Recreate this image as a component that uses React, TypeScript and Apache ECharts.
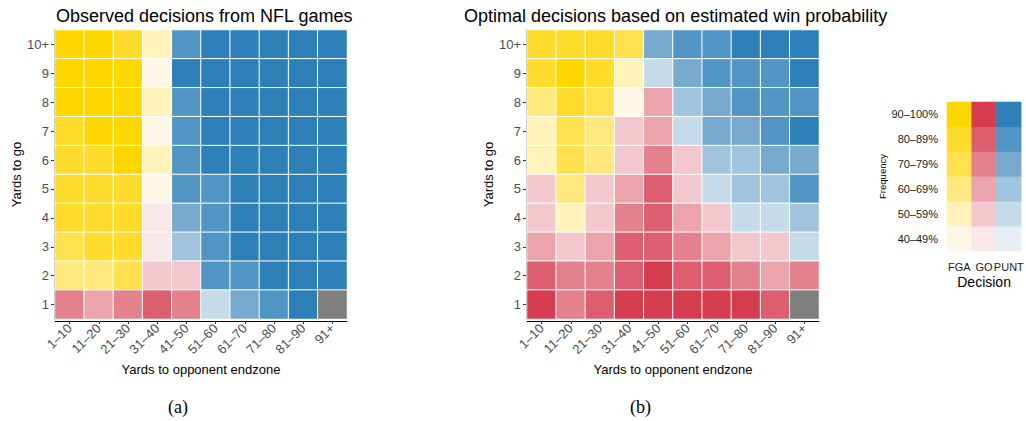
import React, { useEffect, useRef } from "react";
import * as echarts from "echarts";

const xCats = ["1–10", "11–20", "21–30", "31–40", "41–50", "51–60", "61–70", "71–80", "81–90", "91+"];
const yCats = ["1", "2", "3", "4", "5", "6", "7", "8", "9", "10+"];

// rows listed from top (10+) to bottom (1); F=FGA, G=GO, P=PUNT, level 1 (40–49%) .. 6 (90–100%), NA = no data
const observedRows = [
  ["F6", "F6", "F5", "F2", "P5", "P6", "P6", "P6", "P6", "P6"],
  ["F6", "F6", "F6", "F1", "P6", "P6", "P6", "P6", "P6", "P6"],
  ["F6", "F6", "F6", "F2", "P5", "P6", "P6", "P6", "P6", "P6"],
  ["F5", "F6", "F6", "F1", "P5", "P6", "P6", "P6", "P6", "P6"],
  ["F5", "F5", "F6", "F2", "P5", "P6", "P6", "P6", "P6", "P6"],
  ["F5", "F5", "F5", "F1", "P5", "P5", "P6", "P6", "P6", "P6"],
  ["F5", "F5", "F5", "G1", "P4", "P5", "P6", "P6", "P6", "P6"],
  ["F4", "F5", "F5", "G1", "P3", "P5", "P6", "P6", "P6", "P6"],
  ["F3", "F3", "F4", "G2", "G2", "P5", "P5", "P6", "P6", "P6"],
  ["G4", "G3", "G4", "G5", "G4", "P2", "P4", "P5", "P6", "NA"],
];

const optimalRows = [
  ["F5", "F5", "F5", "F4", "P4", "P5", "P5", "P6", "P6", "P6"],
  ["F5", "F6", "F5", "F2", "P2", "P4", "P5", "P5", "P5", "P6"],
  ["F3", "F5", "F4", "F1", "G3", "P3", "P4", "P5", "P5", "P5"],
  ["F2", "F4", "F3", "G2", "G3", "P2", "P4", "P4", "P5", "P6"],
  ["F2", "F4", "F3", "G2", "G4", "G2", "P3", "P3", "P4", "P4"],
  ["G2", "F3", "G2", "G3", "G5", "G2", "P2", "P3", "P3", "P5"],
  ["G2", "F2", "G2", "G4", "G5", "G3", "G2", "P2", "P2", "P3"],
  ["G3", "G2", "G3", "G5", "G5", "G4", "G3", "G2", "G2", "P2"],
  ["G5", "G4", "G4", "G5", "G6", "G5", "G5", "G4", "G3", "G4"],
  ["G6", "G4", "G5", "G6", "G6", "G6", "G6", "G6", "G5", "NA"],
];

const legendDecisions = ["FGA", "GO", "PUNT"];
const legendLevels = ["40–49%", "50–59%", "60–69%", "70–79%", "80–89%", "90–100%"];

const decisionKeys = ["F", "G", "P"];
const palette: Record<string, string[]> = {
  F: ["#FFF8E7", "#FFF3B9", "#FFE97F", "#FFE14F", "#FFDB2B", "#FFD700"],
  G: ["#F8E8EA", "#F2C8CE", "#EBA4AC", "#E3818D", "#DD5F6F", "#D63C4F"],
  P: ["#E6EEF5", "#C6DBEA", "#A1C4DE", "#78AACF", "#5195C4", "#2D7FB8"],
};
const naColor = "#7F7F7F";

// numeric class for visualMap: decisionIndex*6 + (level-1); NA = 18
const codeClass = (code: string) => {
  if (code === "NA") return 18;
  return decisionKeys.indexOf(code[0]) * 6 + parseInt(code.slice(1), 10) - 1;
};

const pieces: any[] = [];
decisionKeys.forEach((k, di) => {
  palette[k].forEach((c, li) => pieces.push({ value: di * 6 + li, color: c }));
});
pieces.push({ value: 18, color: naColor });

const buildData = (rows: string[][]) => {
  const out: number[][] = [];
  rows.forEach((row, r) => {
    const yi = yCats.length - 1 - r;
    row.forEach((code, xi) => out.push([xi, yi, codeClass(code)]));
  });
  return out;
};

const legendData = () => {
  const out: number[][] = [];
  legendDecisions.forEach((_, xi) => {
    legendLevels.forEach((__, yi) => out.push([xi, yi, xi * 6 + yi]));
  });
  return out;
};

const FONT = "Liberation Sans";

const mainX = (gridIndex: number) => ({
  type: "category",
  gridIndex,
  data: xCats,
  offset: 2,
  axisLine: { show: true, lineStyle: { color: "#000", width: 1 } },
  axisTick: { show: true, length: 3, alignWithLabel: true, lineStyle: { color: "#333" } },
  axisLabel: { rotate: 45, color: "#4D4D4D", fontSize: 13, fontFamily: FONT, margin: 5, interval: 0 },
  splitLine: { show: false },
  name: "Yards to opponent endzone",
  nameLocation: "middle",
  nameGap: 41,
  nameTextStyle: { color: "#000", fontSize: 13, fontFamily: FONT },
});

const mainY = (gridIndex: number) => ({
  type: "category",
  gridIndex,
  data: yCats,
  offset: 1,
  axisLine: { show: true, lineStyle: { color: "#000", width: 1 } },
  axisTick: { show: true, length: 3, alignWithLabel: true, lineStyle: { color: "#333" } },
  axisLabel: { color: "#4D4D4D", fontSize: 13, fontFamily: FONT, margin: 5, interval: 0 },
  splitLine: { show: false },
  name: "Yards to go",
  nameLocation: "middle",
  nameGap: 30,
  nameRotate: 90,
  nameTextStyle: { color: "#000", fontSize: 13, fontFamily: FONT },
});

export default function App() {
  const ref = useRef<HTMLDivElement>(null);
  useEffect(() => {
    if (!ref.current) return;
    const chart = echarts.init(ref.current, null, { renderer: "svg" });
    const cellStyle = { borderColor: "#FFFFFF", borderWidth: 1 };
    chart.setOption({
      animation: false,
      backgroundColor: "#FFFFFF",
      title: [
        {
          text: "Observed decisions from NFL games",
          left: 51,
          top: 2,
          textStyle: { fontSize: 18, fontWeight: "normal", color: "#000", fontFamily: FONT },
        },
        {
          text: "Optimal decisions based on estimated win probability",
          left: 459,
          top: 2,
          textStyle: { fontSize: 18, fontWeight: "normal", color: "#000", fontFamily: FONT },
        },
      ],
      visualMap: {
        type: "piecewise",
        show: false,
        dimension: 2,
        seriesIndex: [0, 1, 2],
        pieces,
      },
      grid: [
        { left: 55, top: 30, width: 292, height: 289 },
        { left: 527, top: 30, width: 292, height: 289 },
        { left: 947, top: 102, width: 79, height: 149 },
      ],
      xAxis: [
        mainX(0),
        mainX(1),
        {
          type: "category",
          gridIndex: 2,
          data: legendDecisions,
          axisLine: { show: false },
          axisTick: { show: false },
          axisLabel: { color: "#1A1A1A", fontSize: 11, fontFamily: FONT, margin: 10, interval: 0 },
          name: "Decision",
          nameLocation: "middle",
          nameGap: 24,
          nameTextStyle: { color: "#000", fontSize: 14, fontFamily: FONT },
        },
      ],
      yAxis: [
        mainY(0),
        mainY(1),
        {
          type: "category",
          gridIndex: 2,
          data: legendLevels,
          axisLine: { show: false },
          axisTick: { show: false },
          axisLabel: { color: "#1A1A1A", fontSize: 11, fontFamily: FONT, margin: 9, interval: 0 },
          name: "Frequency",
          nameLocation: "middle",
          nameGap: 59,
          nameRotate: 90,
          nameTextStyle: { color: "#000", fontSize: 9.5, fontFamily: FONT },
        },
      ],
      series: [
        {
          type: "heatmap",
          xAxisIndex: 0,
          yAxisIndex: 0,
          data: buildData(observedRows),
          itemStyle: cellStyle,
          emphasis: { disabled: true },
        },
        {
          type: "heatmap",
          xAxisIndex: 1,
          yAxisIndex: 1,
          data: buildData(optimalRows),
          itemStyle: cellStyle,
          emphasis: { disabled: true },
        },
        {
          type: "heatmap",
          xAxisIndex: 2,
          yAxisIndex: 2,
          data: legendData(),
          itemStyle: { borderWidth: 0 },
          emphasis: { disabled: true },
        },
      ],
      graphic: [
        {
          type: "text",
          left: 168,
          top: 398,
          style: { text: "(a)", fontSize: 18, fontFamily: "Liberation Serif", fill: "#000" },
        },
        {
          type: "text",
          left: 630,
          top: 398,
          style: { text: "(b)", fontSize: 18, fontFamily: "Liberation Serif", fill: "#000" },
        },
      ],
    });
    return () => chart.dispose();
  }, []);
  return (
    <div
      ref={ref}
      style={{ position: "absolute", left: 0, top: 0, width: 1026, height: 421 }}
    />
  );
}
